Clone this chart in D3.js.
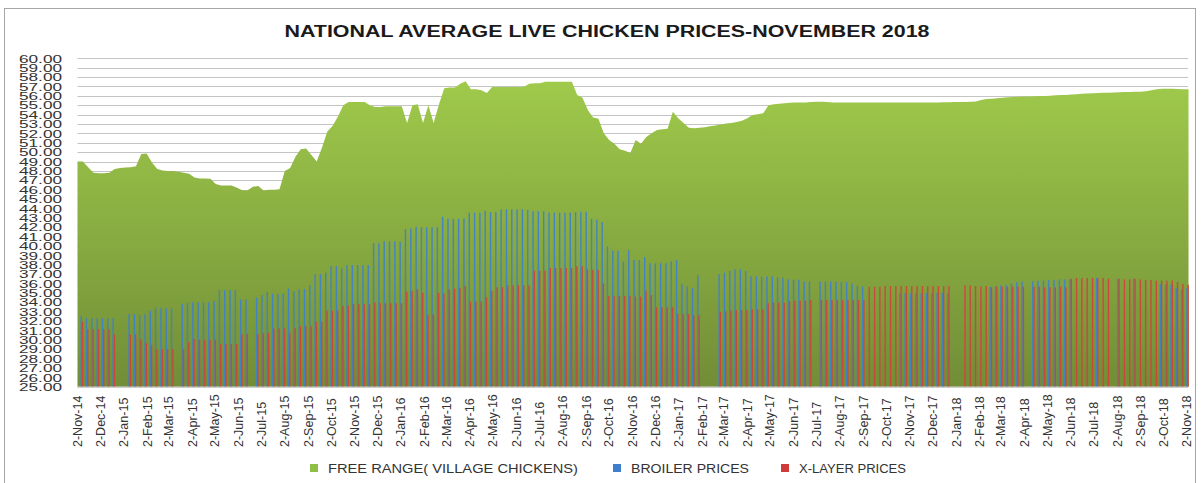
<!DOCTYPE html>
<html>
<head>
<meta charset="utf-8">
<script src="https://cdn.jsdelivr.net/npm/d3@7"></script>
<style>
  body { margin: 0; background: #fff; }
  svg { display: block; font-family: "Liberation Sans", Arial, sans-serif; }
</style>
</head>
<body>
<svg id="chart"></svg>
<script>
// weekly readings, first week starting 2-Nov-14
const firstWeek = new Date(2014, 10, 2);

const freeRange = [
  49.0, 49.0, 48.4, 47.8, 47.75, 47.75, 47.8, 48.2, 48.3, 48.35,
  48.4, 48.5, 49.8, 49.85, 48.9, 48.2, 48.05, 48.0, 48.0, 47.9,
  47.8, 47.7, 47.3, 47.2, 47.2, 47.15, 46.6, 46.45, 46.45, 46.45,
  46.2, 45.95, 45.95, 46.3, 46.4, 45.9, 46.0, 46.0, 46.05, 48.0,
  48.3, 49.5, 50.3, 50.4, 49.7, 49.0, 50.5, 52.2, 52.8, 53.8,
  55.0, 55.35, 55.35, 55.35, 55.35, 55.0, 54.8, 54.8, 54.9, 54.9,
  54.9, 54.9, 53.1, 55.0, 55.1, 53.1, 55.0, 53.1, 55.1, 56.8,
  56.9, 56.9, 57.3, 57.55, 56.7, 56.7, 56.6, 56.3, 56.95, 56.95,
  56.95, 56.95, 56.95, 56.95, 56.98, 57.3, 57.33, 57.35, 57.5, 57.5,
  57.5, 57.5, 57.5, 57.5, 56.1, 55.8, 54.5, 53.7, 53.55, 52.0,
  51.3, 50.9, 50.3, 50.15, 49.9, 51.3, 50.9, 51.6, 52.0, 52.35,
  52.45, 52.5, 54.3, 53.6, 53.1, 52.6, 52.55, 52.6, 52.65, 52.75,
  52.85, 52.95, 53.05, 53.1, 53.2, 53.35, 53.6, 53.95, 54.05, 54.15,
  55.0, 55.1, 55.15, 55.2, 55.25, 55.3, 55.3, 55.3, 55.35, 55.38,
  55.38, 55.35, 55.3, 55.3, 55.28, 55.28, 55.3, 55.3, 55.28, 55.28,
  55.3, 55.3, 55.3, 55.3, 55.3, 55.3, 55.3, 55.3, 55.3, 55.3,
  55.3, 55.3, 55.3, 55.32, 55.32, 55.34, 55.34, 55.35, 55.38, 55.4,
  55.55, 55.65, 55.7, 55.75, 55.8, 55.85, 55.88, 55.9, 55.92, 55.94,
  55.96, 55.97, 55.98, 56.0, 56.05, 56.08, 56.1, 56.14, 56.18, 56.22,
  56.25, 56.27, 56.29, 56.32, 56.34, 56.36, 56.38, 56.4, 56.41, 56.43,
  56.44, 56.5, 56.6, 56.69, 56.75, 56.76, 56.76, 56.74, 56.7, 56.69
];

const broiler = [
  32.55, 32.3, 32.3, 32.3, 32.3, 32.3, 32.3, null, null, 32.75,
  32.75, 32.6, 32.75, 33.1, 33.45, 33.35, 33.35, 33.35, null, 33.8,
  33.95, 34.0, 34.0, 34.0, 34.0, 34.15, 35.3, 35.3, 35.3, 35.3,
  34.3, 34.3, null, 34.5, 34.75, 35.1, 34.9, 34.9, 34.9, 35.45,
  35.15, 35.4, 35.4, 35.85, 37.0, 37.0, 37.15, 37.85, 37.85, 37.6,
  37.95, 37.95, 37.95, 37.95, 37.95, 40.3, 40.3, 40.5, 40.5, 40.5,
  40.45, 41.8, 41.85, 42.05, 42.0, 42.0, 42.0, 42.0, 43.1, 42.9,
  42.9, 42.9, 42.95, 43.55, 43.55, 43.55, 43.75, 43.6, 43.6, 43.9,
  43.9, 43.9, 43.9, 43.9, 43.85, 43.7, 43.7, 43.7, 43.55, 43.55,
  43.55, 43.55, 43.55, 43.6, 43.65, 43.65, 42.9, 42.8, 42.55, 39.95,
  39.5, 39.5, 38.35, 39.55, 38.5, 38.5, 38.8, 38.15, 38.15, 38.15,
  38.15, 38.35, 38.5, 35.95, 35.65, 35.5, 36.85, null, null, null,
  37.0, 37.15, 37.35, 37.5, 37.5, 37.35, 36.75, 36.75, 36.75, 36.75,
  36.75, 36.65, 36.6, 36.45, 36.4, 36.4, 36.2, 36.2, null, 36.2,
  36.2, 36.2, 36.2, 36.15, 36.15, 36.0, 35.75, 35.65, null, null,
  null, null, null, null, 35.0, 35.0, 34.95, 34.95, 34.95, 35.0,
  35.0, 35.0, 35.0, 35.0, null, null, null, null, null, null,
  null, 35.65, 35.73, 35.8, 35.85, 36.0, 36.15, 36.2, null, 36.23,
  36.3, 36.3, 36.37, 36.37, 36.44, 36.44, 36.44, null, null, null,
  null, 36.6, null, null, null, 36.5, null, null, 36.5, null,
  null, null, null, 35.95, 35.87, 35.87, 35.52, 35.38, 35.52
];

const xLayer = [
  31.93, 31.12, 31.12, 31.12, 31.12, 31.12, 30.55, null, null, 30.55,
  30.55, 30.05, 29.65, 29.45, 29.0, 29.0, 29.0, 29.0, null, 29.0,
  29.75, 30.1, 30.0, 30.0, 30.0, 30.0, 29.55, 29.55, 29.55, 29.55,
  30.6, 30.6, null, 30.6, 30.7, 30.75, 31.2, 31.2, 31.2, 30.75,
  31.25, 31.45, 31.45, 31.45, 31.9, 31.9, 33.1, 33.1, 33.1, 33.6,
  33.65, 33.8, 33.8, 33.8, 33.8, 34.0, 33.9, 33.9, 33.9, 33.9,
  33.9, 35.13, 35.2, 35.38, 35.02, 32.65, 32.7, 35.0, 34.9, 35.38,
  35.45, 35.55, 35.73, 34.06, 34.06, 34.06, 34.53, 35.2, 35.6, 35.6,
  35.8, 35.8, 35.8, 35.8, 35.8, 37.37, 37.37, 37.37, 37.65, 37.65,
  37.65, 37.65, 37.65, 37.85, 37.85, 37.5, 37.45, 37.45, 36.0, 34.67,
  34.67, 34.67, 34.67, 34.67, 34.6, 34.6, 35.24, 34.77, 33.46, 33.46,
  33.46, 33.46, 32.75, 32.75, 32.75, 32.6, 32.6, null, null, null,
  32.96, 33.03, 33.1, 33.17, 33.17, 33.17, 33.25, 33.25, 33.25, 33.89,
  33.96, 33.96, 33.96, 34.1, 34.17, 34.17, 34.17, 34.24, null, 34.24,
  34.24, 34.24, 34.24, 34.2, 34.24, 34.24, 34.24, 34.24, 35.66, 35.66,
  35.66, 35.73, 35.73, 35.73, 35.73, 35.73, 35.73, 35.73, 35.73, 35.73,
  35.73, 35.73, 35.73, 35.73, null, null, 35.8, 35.8, 35.73, 35.66,
  35.73, 35.59, 35.66, 35.66, 35.66, 35.66, 35.66, 35.66, null, 35.66,
  35.66, 35.59, 35.59, 35.59, 35.66, 35.59, 36.51, 36.59, 36.59, 36.59,
  36.59, 36.59, 36.59, 36.51, null, 36.51, 36.44, 36.44, 36.51, 36.44,
  36.37, 36.37, 36.3, 36.3, 36.3, 36.3, 36.16, 35.95, 35.87
];

const title = "NATIONAL AVERAGE LIVE CHICKEN PRICES-NOVEMBER 2018";
const legendLabels = ["FREE RANGE( VILLAGE CHICKENS)", "BROILER PRICES", "X-LAYER PRICES"];
const yMin = 25, yMax = 60;

const width = 1203, height = 483;
const plot = { left: 77.5, right: 1187, top: 58.3, bottom: 386.7 };
const colors = { broiler: "#3f7fcf", layer: "#d3413a" };
const barShift = 4.2;

const dates = freeRange.map((_, i) => d3.timeDay.offset(firstWeek, 7 * i));

const svg = d3.select("#chart").attr("width", width).attr("height", height);

// outer frame
svg.append("rect")
  .attr("x", 4.5).attr("y", 8.5)
  .attr("width", 1191).attr("height", 500)
  .attr("fill", "none").attr("stroke", "#a6a6a6");

const xScale = d3.scaleTime()
  .domain([new Date(2014, 10, 2), new Date(2018, 10, 2)])
  .range([plot.left, plot.right]);

const yScale = d3.scaleLinear()
  .domain([yMin, yMax])
  .range([plot.bottom, plot.top]);

// gridlines + y labels
const yTicks = d3.range(yMin, yMax + 0.5, 1);
svg.append("g").selectAll("line")
  .data(yTicks)
  .enter().append("line")
  .attr("x1", plot.left).attr("x2", plot.right + 1)
  .attr("y1", d => Math.round(yScale(d)) + 0.5)
  .attr("y2", d => Math.round(yScale(d)) + 0.5)
  .attr("stroke", "#c4c4c4").attr("stroke-width", 1);

svg.append("g").selectAll("text")
  .data(yTicks)
  .enter().append("text")
  .attr("x", 62)
  .attr("y", d => yScale(d) + 4.2)
  .attr("text-anchor", "end")
  .attr("font-size", 11.5)
  .attr("fill", "#333")
  .attr("textLength", 43)
  .attr("lengthAdjust", "spacingAndGlyphs")
  .text(d3.format(".2f"));

// gradient for the area
const defs = svg.append("defs");
const grad = defs.append("linearGradient")
  .attr("id", "freeGrad")
  .attr("x1", 0).attr("y1", 0).attr("x2", 0).attr("y2", 1);
grad.append("stop").attr("offset", "0%").attr("stop-color", "#9fca4b");
grad.append("stop").attr("offset", "100%").attr("stop-color", "#718d37");

const area = d3.area()
  .x((d, i) => xScale(dates[i]))
  .y0(yScale(yMin))
  .y1(d => yScale(d));

svg.append("path")
  .datum(freeRange)
  .attr("d", area)
  .attr("fill", "url(#freeGrad)");

// bars
const drawBars = (values, color, offset) => {
  svg.append("g").selectAll("rect")
    .data(values.map((v, i) => ({ v, date: dates[i] })).filter(d => d.v != null))
    .enter().append("rect")
    .attr("x", d => xScale(d.date) + barShift + offset)
    .attr("width", 1.4)
    .attr("y", d => yScale(d.v))
    .attr("height", d => yScale(yMin) - yScale(d.v))
    .attr("fill", color)
    .attr("opacity", 0.9);
};
drawBars(broiler, colors.broiler, -1.2);
drawBars(xLayer, colors.layer, 0.1);

// baseline
svg.append("line")
  .attr("x1", plot.left).attr("x2", plot.right + 1)
  .attr("y1", plot.bottom + 0.5).attr("y2", plot.bottom + 0.5)
  .attr("stroke", "#d0d0d0");

// x labels on the 2nd of every month
const tickDates = d3.timeMonth.range(new Date(2014, 10, 1), new Date(2018, 10, 3))
  .map(d => d3.timeDay.offset(d, 1));
const fmt = d3.timeFormat("%-d-%b-%y");
svg.append("g").selectAll("text")
  .data(tickDates)
  .enter().append("text")
  .attr("transform", d => `translate(${xScale(d)}, 447) rotate(-90)`)
  .attr("dy", "0.35em")
  .attr("text-anchor", "start")
  .attr("font-size", 12.5)
  .attr("fill", "#333")
  .text(fmt);

// title
svg.append("text")
  .attr("x", 607).attr("y", 37)
  .attr("text-anchor", "middle")
  .attr("font-size", 16)
  .attr("font-weight", "bold")
  .attr("fill", "#1a1a1a")
  .attr("textLength", 645)
  .attr("lengthAdjust", "spacingAndGlyphs")
  .text(title);

// legend
const legendItems = [
  { label: legendLabels[0], color: "#8fbf45", x: 310, w: 250 },
  { label: legendLabels[1], color: "#3f7fcf", x: 613, w: 118 },
  { label: legendLabels[2], color: "#cf3b3b", x: 781, w: 107 }
];
const legend = svg.append("g");
legendItems.forEach(item => {
  legend.append("rect")
    .attr("x", item.x).attr("y", 464)
    .attr("width", 8).attr("height", 8)
    .attr("fill", item.color);
  legend.append("text")
    .attr("x", item.x + 18).attr("y", 473)
    .attr("font-size", 12)
    .attr("fill", "#333")
    .attr("textLength", item.w)
    .attr("lengthAdjust", "spacingAndGlyphs")
    .text(item.label);
});
</script>
</body>
</html>
